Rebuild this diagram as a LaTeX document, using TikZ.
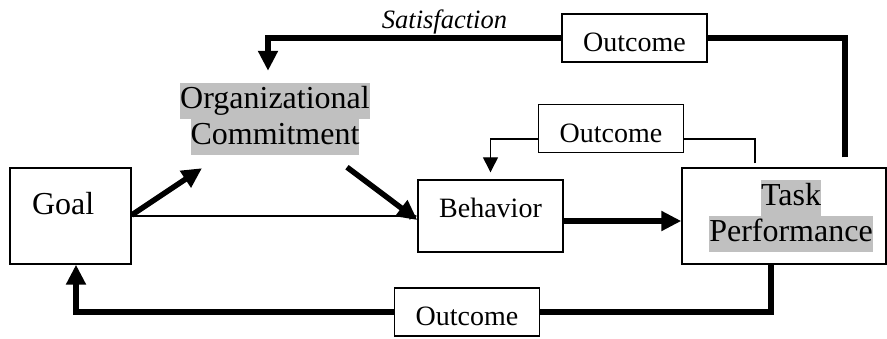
\documentclass[tikz,border=0pt]{standalone}
\usepackage{fontspec}
\setmainfont{Liberation Serif}
\usetikzlibrary{arrows.meta}
\definecolor{hilite}{RGB}{192,192,192}
\newcommand{\graybg}[1]{{\setlength{\fboxsep}{0pt}\colorbox{hilite}{\strut #1}}}

\begin{document}
\begin{tikzpicture}[x=1pt, y=-1pt,
        box/.style = {draw, line width=1.4pt, inner sep=0pt},
        big/.style = {font=\fontsize{32}{36}\selectfont, align=center, inner sep=0pt},
        outbox/.style = {box, minimum width=145pt, minimum height=48pt, text height=27pt, text depth=0pt, font=\fontsize{28}{32}\selectfont},
        thickline/.style = {line width=5.5pt},
        thinline/.style = {line width=1.3pt},
        bigtip/.style = {-{Triangle[length=20pt,width=19pt]}},
        smalltip/.style = {-{Triangle[length=15pt,width=15pt]}}]
    \useasboundingbox (0,0) rectangle (887,338);
    \node[box, big, minimum height=96pt, text width=77pt, inner xsep=22pt, align=left, text height=22pt, text depth=26pt] (goal) at (70.5,216) {Goal};
    \node[big] (org) at (275,119) {\graybg{Organizational}\\\graybg{Commitment}};
    \node[box, minimum width=145pt, minimum height=72pt, text height=20pt, text depth=18pt, font=\fontsize{28}{32}\selectfont] (beh) at (490.5,216) {Behavior};
    \node[box, big, minimum width=204pt, minimum height=96pt] (task) at (784,216) {\hspace*{14pt}\graybg{Task}\\\hspace*{14pt}\graybg{Performance}};
    \node[outbox] (out1) at (634.5,38) {Outcome};
    \node[outbox] (out2) at (611,128.5) {Outcome};
    \node[outbox] (out3) at (467,312) {Outcome};
    \node[anchor=base, inner sep=0pt, font=\fontsize{26.5}{30}\selectfont\itshape] (sat) at (444.5,28) {Satisfaction};
    \draw[thinline, -{Triangle[length=8pt,width=7pt]}] (goal.east) -- (beh.west);
    \draw[thickline, bigtip] ([yshift=1pt]goal.east) -- ([xshift=-73pt, yshift=-13pt]org.south);
    \draw[thickline, bigtip] ([xshift=72pt, yshift=-12pt]org.south) -- ([yshift=-4pt]beh.west);
    \draw[thickline, bigtip] ([yshift=-5pt]beh.east) -- ([yshift=-5pt]task.west);
    \draw[thickline] ([xshift=61pt, yshift=10pt]task.north) |- (out1.east);
    \draw[thickline, bigtip] (out1.west) -| ([xshift=-7pt, yshift=12pt]org.north);
    \draw[thinline] ([xshift=-29pt, yshift=4pt]task.north) |- ([yshift=-10.5pt]out2.east);
    \draw[thinline, smalltip] ([yshift=-10.5pt]out2.west) -| ([yshift=7pt]beh.north);
    \draw[thickline] ([xshift=-13pt]task.south) |- (out3.east);
    \draw[thickline, bigtip] (out3.west) -| ([xshift=5.5pt]goal.south);
\end{tikzpicture}
\end{document}
